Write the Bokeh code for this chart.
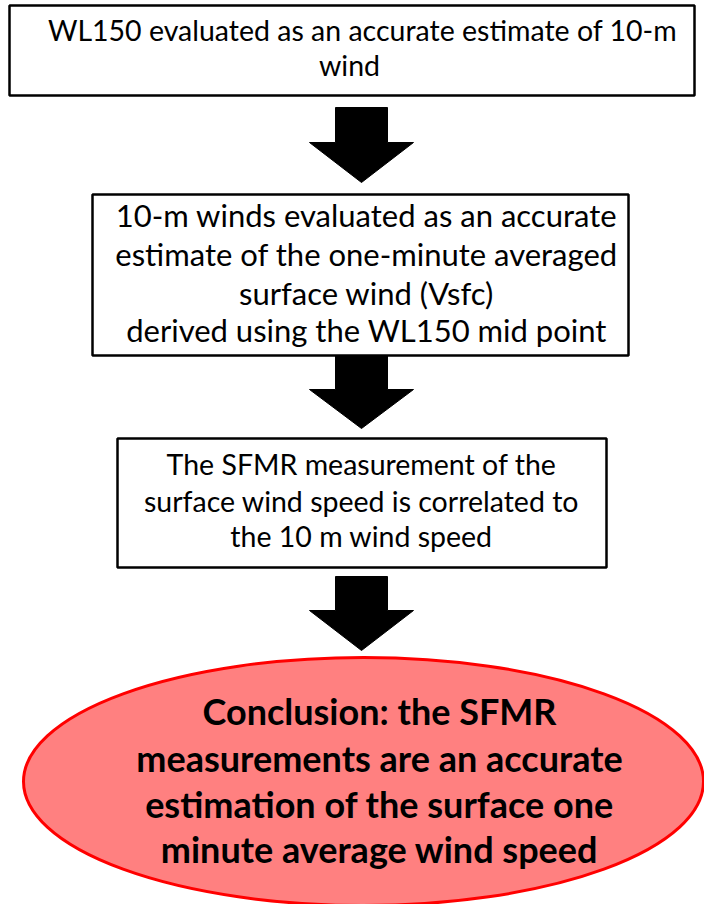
from bokeh.plotting import figure
from bokeh.models import Range1d, ColumnDataSource
from bokeh.core.properties import value
from bokeh.embed import file_html
from bokeh.resources import INLINE

# ---- content ----
box1_lines = ["WL150 evaluated as an accurate estimate of 10-m", "wind"]
box2_lines = ["10-m winds evaluated as an accurate",
              "estimate of the one-minute averaged",
              "surface wind (Vsfc)",
              "derived using the WL150 mid point"]
box3_lines = ["The SFMR measurement of the",
              "surface wind speed is correlated to",
              "the 10 m wind speed"]
conclusion_lines = ["Conclusion: the SFMR",
                    "measurements are an accurate",
                    "estimation of the surface one",
                    "minute average wind speed"]

# ---- layout (screen-pixel coordinates) ----
box_left = [9, 92, 117]
box_right = [694, 628, 606]
box_top = [5, 194, 438]
box_bottom = [95, 355, 567]

box1_x = [362, 349]
box1_y = [29, 64]
box2_y = [214, 253, 292, 329]
box3_y = [463, 500, 535]
concl_y = [710, 757, 803, 848]

arrow_cx = 361
arrow_shaft_top = [107, 355, 576]
arrow_head_top = [142, 389, 610]
arrow_tip = [182, 428, 650]
shaft_half = 26
head_half = 52

W, H = 704, 904
p = figure(width=W, height=H, output_backend="svg", toolbar_location=None,
           x_range=Range1d(0, W), y_range=Range1d(H, 0),
           min_border=0)
p.axis.visible = False
p.grid.visible = False
p.outline_line_color = None
p.background_fill_color = "white"
p.border_fill_color = "white"

# arrows
xs, ys = [], []
for st, ht, tp in zip(arrow_shaft_top, arrow_head_top, arrow_tip):
    xs.append([arrow_cx - shaft_half, arrow_cx + shaft_half, arrow_cx + shaft_half,
               arrow_cx + head_half, arrow_cx, arrow_cx - head_half, arrow_cx - shaft_half])
    ys.append([st, st, ht, ht, tp, ht, ht])
p.patches(xs, ys, fill_color="black", line_color="black", line_width=1)

# boxes
p.quad(left=box_left, right=box_right, top=box_top, bottom=box_bottom,
       fill_color="white", line_color="black", line_width=2.5)

# ellipse
p.ellipse(x=[363], y=[781], width=[680], height=[248],
          fill_color="#FF8080", line_color="#FF0000", line_width=3)

def add_text(lines, xs_, ys_, size, style="normal"):
    src = ColumnDataSource(dict(x=xs_, y=ys_, t=lines))
    p.text(x="x", y="y", text="t", source=src, text_align="center",
           text_baseline="middle", text_font=value("Lato"),
           text_font_size=size, text_font_style=style, text_color="black")

add_text(box1_lines, box1_x, box1_y, "28.5px")
add_text(box2_lines, [366] * 4, box2_y, "31px")
add_text(box3_lines, [361] * 3, box3_y, "28.5px")
add_text(conclusion_lines, [379] * 4, concl_y, "36px", "bold")

open("out.html", "w").write(file_html(p, INLINE))
